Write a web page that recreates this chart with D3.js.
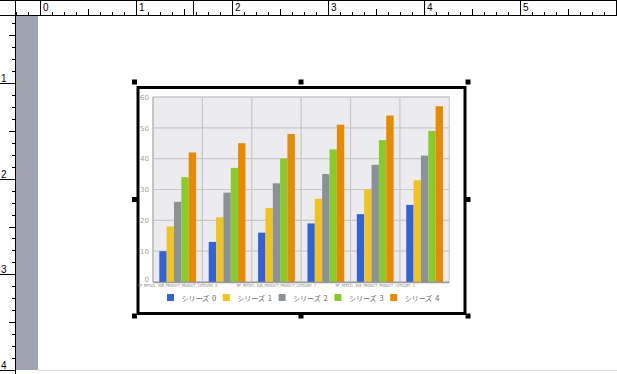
<!DOCTYPE html>
<html>
<head>
<meta charset="utf-8">
<script src="https://cdn.jsdelivr.net/npm/d3@7"></script>
<style>
  body { margin: 0; background: #fff; }
  svg { display: block; }
</style>
</head>
<body>
<div id="chart"></div>
<script>
// data
var categories = ["MF_RETAIL_SUB_PRODUCT_PRODUCT_CATEGORY 0", "MF_RETAIL_SUB_PRODUCT_PRODUCT_CATEGORY 1",
                  "MF_RETAIL_SUB_PRODUCT_PRODUCT_CATEGORY 2", "MF_RETAIL_SUB_PRODUCT_PRODUCT_CATEGORY 3",
                  "MF_RETAIL_SUB_PRODUCT_PRODUCT_CATEGORY 4", "MF_RETAIL_SUB_PRODUCT_PRODUCT_CATEGORY 5"];
var seriesLabel = "シリーズ";
var seriesIds = ["0", "1", "2", "3", "4"];
var series0 = [10, 13, 16, 19, 22, 25];
var series1 = [18, 21, 24, 27, 30, 33];
var series2 = [26, 29, 32, 35, 38, 41];
var series3 = [34, 37, 40, 43, 46, 49];
var series4 = [42, 45, 48, 51, 54, 57];
var yTicks = [0, 10, 20, 30, 40, 50, 60];
var rulerTopLabels = ["0", "1", "2", "3", "4", "5"];
var rulerLeftLabels = ["1", "2", "3", "4"];

var allSeries = [series0, series1, series2, series3, series4];
var colors = ["#3262d8", "#efc320", "#8a9199", "#8acb2c", "#e78a00"];

var width = 617, height = 374;

var svg = d3.select("#chart").append("svg")
    .attr("width", width)
    .attr("height", height);

// ---------- rulers ----------
var rx = d3.scaleLinear().domain([0, 6]).range([40, 616]);
var ry = d3.scaleLinear().domain([1, 4]).range([83, 370]);

svg.append("rect").attr("x", 16).attr("y", 16).attr("width", 22).attr("height", 354)
    .attr("fill", "#9ea4b0");
svg.append("line").attr("x1", 38).attr("x2", 617).attr("y1", 370.5).attr("y2", 370.5)
    .attr("stroke", "#d8d8d8");

var ruler = svg.append("g").attr("stroke", "#000").attr("stroke-width", 1).attr("shape-rendering", "crispEdges");
ruler.append("line").attr("x1", 0).attr("x2", 617).attr("y1", 0.5).attr("y2", 0.5);
ruler.append("line").attr("x1", 0).attr("x2", 617).attr("y1", 15.5).attr("y2", 15.5);
ruler.append("line").attr("x1", 15.5).attr("x2", 15.5).attr("y1", 0).attr("y2", 374);
ruler.append("line").attr("x1", 193.5).attr("x2", 193.5).attr("y1", 0).attr("y2", 15);

// top ruler eighth ticks
d3.range(-2, 49).forEach(function(i) {
  var x = Math.round(rx(i / 8)) + 0.5;
  if (x < 16 || x > 617) return;
  var len = i % 8 === 0 ? 15 : (i % 4 === 0 ? 6 : 3);
  ruler.append("line").attr("x1", x).attr("x2", x).attr("y1", 15 - len).attr("y2", 15);
});
svg.selectAll(".rtl").data(rulerTopLabels).enter().append("text")
    .attr("x", (d, i) => rx(i) + 3)
    .attr("y", 11)
    .attr("font-family", "Liberation Sans, sans-serif")
    .attr("font-size", 10)
    .text(d => d);

// left ruler eighth ticks
d3.range(-5, 26).forEach(function(i) {
  var y = Math.round(ry(1 + i / 8)) + 0.5;
  if (y < 16 || y > 374) return;
  var len = i % 8 === 0 ? 15 : (i % 4 === 0 ? 6 : 3);
  ruler.append("line").attr("x1", 15 - len).attr("x2", 15).attr("y1", y).attr("y2", y);
});
svg.selectAll(".rll").data(rulerLeftLabels).enter().append("text")
    .attr("x", 1)
    .attr("y", (d, i) => ry(i + 1) - 1)
    .attr("font-family", "Liberation Sans, sans-serif")
    .attr("font-size", 10)
    .text(d => d);

// ---------- chart frame + handles ----------
svg.append("rect").attr("x", 138).attr("y", 87.5).attr("width", 327).attr("height", 226)
    .attr("fill", "#fff").attr("stroke", "#000").attr("stroke-width", 3);

var hx = [134.5, 301, 468];
var hy = [82, 199.5, 316];
var handles = [];
hx.forEach(function(x, i) { hy.forEach(function(y, j) { if (!(i === 1 && j === 1)) handles.push([x, y]); }); });
svg.selectAll(".handle").data(handles).enter().append("rect")
    .attr("x", d => d[0] - 2.5).attr("y", d => d[1] - 2.5)
    .attr("width", 5).attr("height", 5).attr("fill", "#000");

// ---------- bar chart ----------
var x0 = d3.scaleBand().domain(categories).range([153, 449.3]).padding(0);
var x1 = d3.scaleBand().domain(d3.range(allSeries.length))
    .range([0, x0.bandwidth()]).paddingInner(0).paddingOuter(0.86);
var y = d3.scaleLinear().domain([0, 60]).range([282, 97]);

var plot = svg.append("g");
plot.append("rect").attr("x", 153).attr("y", 97).attr("width", 296.3).attr("height", 185)
    .attr("fill", "#ebebf0").attr("stroke", "#c8c8c8");

// grid
plot.selectAll(".hg").data(yTicks).enter().append("line")
    .attr("x1", 153).attr("x2", 449.3)
    .attr("y1", d => y(d)).attr("y2", d => y(d))
    .attr("stroke", "#c8c8c8").attr("stroke-width", 1.2);
plot.selectAll(".vg").data(categories.slice(1)).enter().append("line")
    .attr("x1", d => x0(d)).attr("x2", d => x0(d))
    .attr("y1", 97).attr("y2", 282)
    .attr("stroke", "#c8c8c8").attr("stroke-width", 1.2);

// bars
var groups = plot.selectAll(".cat").data(categories).enter().append("g")
    .attr("transform", d => "translate(" + x0(d) + ",0)");
groups.selectAll("rect")
    .data((d, ci) => allSeries.map((s, si) => ({ si: si, v: s[ci] })))
    .enter().append("rect")
    .attr("x", d => x1(d.si))
    .attr("width", x1.bandwidth())
    .attr("y", d => y(d.v))
    .attr("height", d => y(0) - y(d.v))
    .attr("fill", d => colors[d.si]);

// axes
plot.append("line").attr("x1", 153).attr("x2", 153).attr("y1", 97).attr("y2", 282)
    .attr("stroke", "#aaa");
plot.append("line").attr("x1", 153).attr("x2", 449.3).attr("y1", 282.5).attr("y2", 282.5)
    .attr("stroke", "#999").attr("stroke-width", 1.5);

var yAxis = d3.axisLeft(y).tickValues(yTicks).tickSize(0).tickPadding(4);
var yg = svg.append("g").attr("transform", "translate(153,0)").call(yAxis);
yg.select(".domain").remove();
yg.selectAll("text").attr("fill", "#a0a0a0").attr("font-size", 7)
    .attr("font-family", "DejaVu Sans, sans-serif");
// the 0 label sits just above the baseline
yg.selectAll(".tick").filter(d => d === 0).select("text").attr("dy", "-0.1em");

var xAxis = d3.axisBottom(x0).tickSize(0).tickPadding(0)
    .tickFormat((d, i) => i % 2 === 0 ? d : "");
var xg = svg.append("g").attr("transform", "translate(0,283.5)").call(xAxis);
xg.select(".domain").remove();
xg.selectAll("text").attr("fill", "#8a8a8a").attr("font-size", 4)
    .attr("font-family", "DejaVu Sans Mono, monospace")
    .attr("dy", "0.85em")
    .attr("textLength", 79).attr("lengthAdjust", "spacingAndGlyphs");

// legend
var legend = svg.append("g").attr("transform", "translate(167,294)");
var item = legend.selectAll("g").data(seriesIds).enter().append("g")
    .attr("transform", (d, i) => "translate(" + (i * 55.8) + ",0)");
item.append("rect").attr("width", 7).attr("height", 7).attr("fill", (d, i) => colors[i]);
var lt = item.append("text").attr("y", 6.5)
    .attr("font-family", "Noto Sans CJK JP, sans-serif")
    .attr("font-size", 7).attr("fill", "#6a6a6a");
lt.append("tspan").attr("x", 14.5).text(seriesLabel + " ");
lt.append("tspan").attr("x", 45).attr("font-size", 7.5).text(d => d);
</script>
</body>
</html>
